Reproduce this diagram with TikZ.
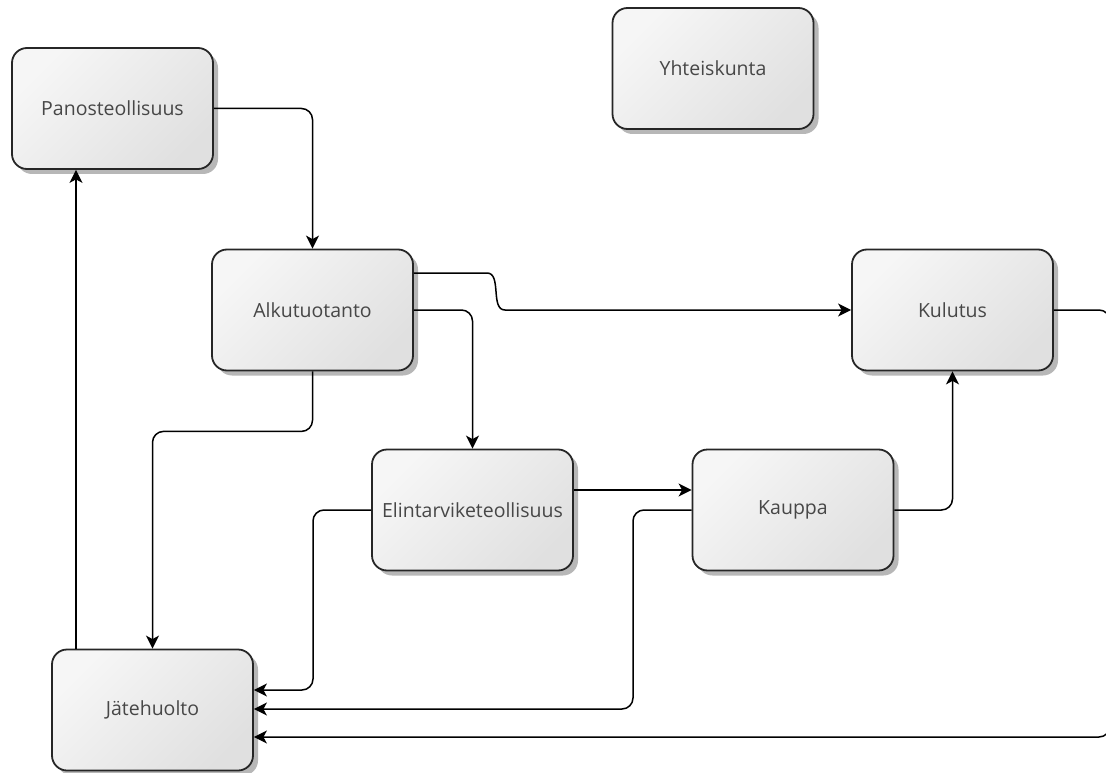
\documentclass[tikz,border=0pt]{standalone}
\usepackage{fontspec}
\setmainfont{Open Sans}
\usetikzlibrary{arrows.meta,shadows}
\begin{document}
\begin{tikzpicture}[x=1pt,y=-1pt,
  box/.style={draw=black!85, line width=1.8pt, rounded corners=15pt,
    minimum width=201pt, minimum height=121pt, inner sep=0pt,
    top color=gray!7, bottom color=gray!24, shading angle=45,
    text=black!72, font=\fontsize{19.5}{23}\selectfont,
    drop shadow={shadow xshift=5pt, shadow yshift=-5pt, fill=black!40, opacity=0.7}},
  conn/.style={line width=1.5pt, rounded corners=11pt},
  arr/.style={conn, -{Stealth[length=13pt,width=13pt,inset=3.5pt]}}]
\fill[white] (0,0) rectangle (1106,773);
\useasboundingbox (0,0) rectangle (1106,773);

\node[box] (pano) at (112.5,108.5) {Panosteollisuus};
\node[box] (yht)  at (713,68.5)    {Yhteiskunta};
\node[box] (alku) at (312.5,310)   {Alkutuotanto};
\node[box] (kul)  at (952.5,310)   {Kulutus};
\node[box] (elin) at (472.5,510)   {Elintarviketeollisuus};
\node[box] (kau)  at (793,510)     {Kauppa};
\node[box] (jate) at (152.5,710)   {Jätehuolto};

\draw[arr] (pano.east) -| (alku.north);
\draw[arr] (alku.east |- 0,273) -- (476,273) .. controls (502,273) and (490,310) .. (516,310) -- (kul.west);
\draw[arr] (alku.east |- 0,310) -| (elin.north);
\draw[arr] (alku.south) -- ++(0,60) -| (jate.north);
\draw[arr] (jate.north -| 76,0) -- (pano.south -| 76,0);
\draw[arr] (elin.east |- 0,490) -- (kau.west |- 0,490);
\draw[arr] (elin.west) -| (313,690) -- (jate.east |- 0,690);
\draw[arr] (kau.west) -| (633,709) -- (jate.east |- 0,709);
\draw[arr] (kau.east) -| (kul.south);
\begin{scope}
\clip (0,0) rectangle (1106,773);
\draw[arr] (kul.east) -- (1110,310) -- (1110,737) -- (jate.east |- 0,737);
\end{scope}
\end{tikzpicture}
\end{document}
